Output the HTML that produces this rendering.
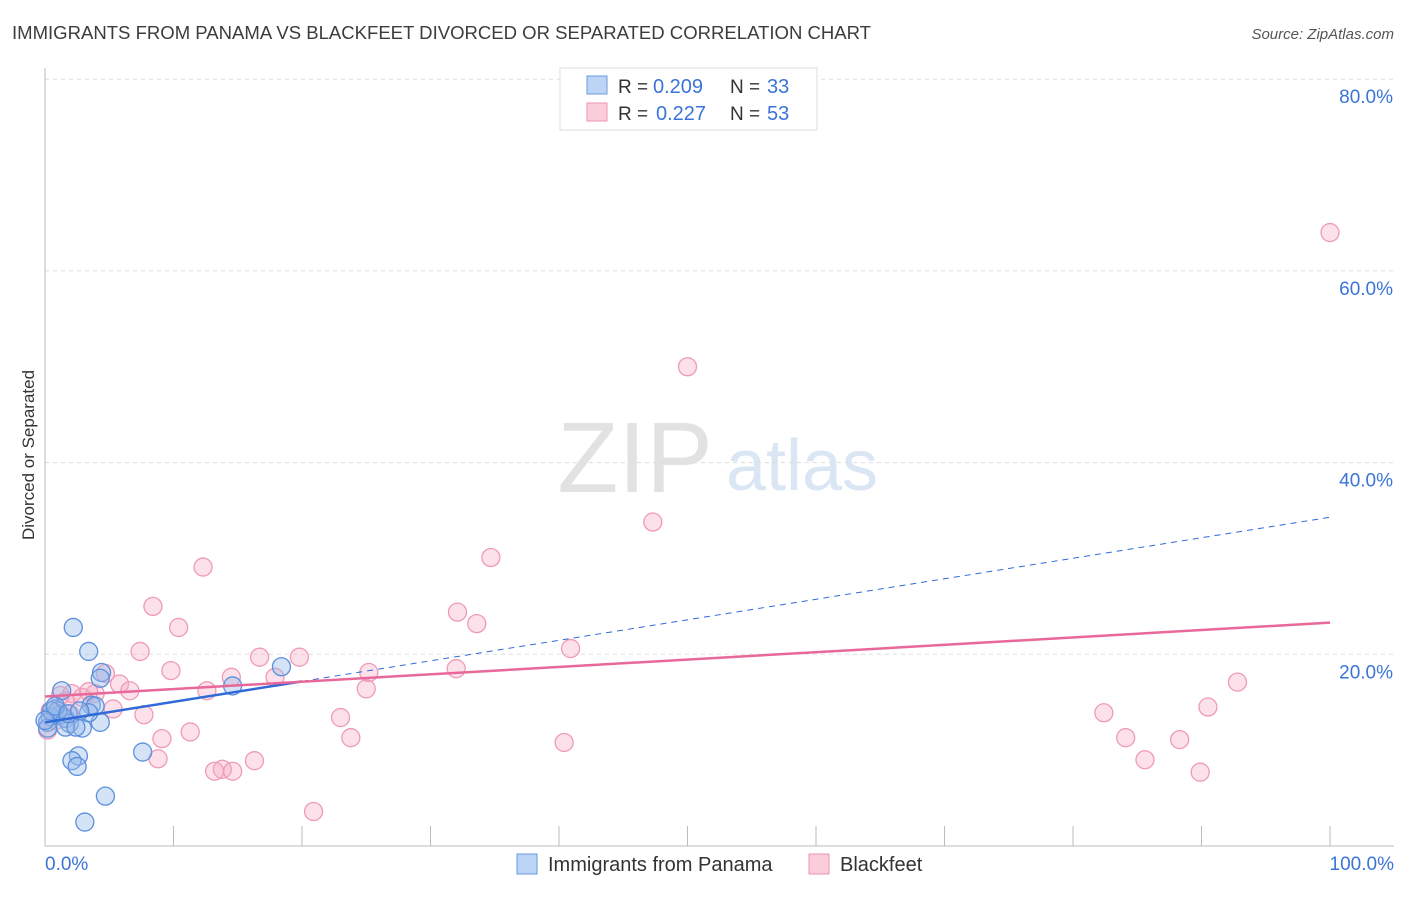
<!DOCTYPE html>
<html><head><meta charset="utf-8"><style>
body{margin:0;background:#fff;font-family:"Liberation Sans",sans-serif;}
svg text{font-family:"Liberation Sans",sans-serif;}
</style></head><body>
<svg id="chart" width="1406" height="892" viewBox="0 0 1406 892">
<text x="12" y="39" font-size="18" fill="#3c3c3c" textLength="859" lengthAdjust="spacingAndGlyphs">IMMIGRANTS FROM PANAMA VS BLACKFEET DIVORCED OR SEPARATED CORRELATION CHART</text>
<text x="1394" y="39" font-size="15" fill="#555" font-style="italic" text-anchor="end">Source: ZipAtlas.com</text>
<text x="34" y="455" font-size="17" fill="#333" text-anchor="middle" transform="rotate(-90 34 455)">Divorced or Separated</text>
<g>
<text x="635" y="492" font-size="100" fill="#e2e2e2" font-family="Liberation Serif" text-anchor="middle">ZIP</text>
<text x="802" y="490" font-size="72" fill="#dbe6f5" text-anchor="middle">atlas</text>
</g>
<g id="grid"></g><g id="axes"></g><g id="points"></g><g id="trends"></g>
<g>
<rect x="560" y="68" width="257" height="62" fill="#fff" stroke="#ddd"/>
<rect x="587" y="76" width="20" height="18" fill="#bcd4f5" stroke="#6a9ae0"/>
<rect x="587" y="103" width="20" height="18" fill="#fbcddb" stroke="#ee93b0"/>
<text x="618" y="93" font-size="19" fill="#333">R =</text>
<text x="653" y="93" font-size="20" fill="#3b74d8">0.209</text>
<text x="730" y="93" font-size="19" fill="#333">N =</text>
<text x="767" y="93" font-size="20" fill="#3b74d8">33</text>
<text x="618" y="120" font-size="19" fill="#333">R =</text>
<text x="656" y="120" font-size="20" fill="#3b74d8">0.227</text>
<text x="730" y="120" font-size="19" fill="#333">N =</text>
<text x="767" y="120" font-size="20" fill="#3b74d8">53</text>
</g>
<g>
<rect x="517" y="854" width="20" height="20" fill="#bcd4f5" stroke="#6a9ae0"/>
<text x="548" y="871" font-size="20" fill="#333">Immigrants from Panama</text>
<rect x="809" y="854" width="20" height="20" fill="#fbcddb" stroke="#ee93b0"/>
<text x="840" y="871" font-size="20" fill="#333">Blackfeet</text>
</g>
</svg>
<script>
const yTicks=[20,40,60,80];
const xTickLabels=["0.0%","100.0%"];
const panamaX=[2.2,3.4,4.4,1.3,4.3,0.8,1.2,0.4,1.6,0.2,1.9,2.9,4.3,3.6,3.9,3.4,1.0,0.5,1.6,2.4,2.6,2.1,2.5,4.7,3.1,7.6,14.6,18.4,0.2,0.8,1.8,2.7,0.0];
const panamaY=[22.8,20.3,18.1,16.2,17.5,14.3,13.7,13.5,13.3,12.9,12.8,12.3,12.9,14.7,14.6,13.9,14.1,14.1,12.4,12.4,9.4,8.9,8.3,5.2,2.5,9.8,16.7,18.7,12.3,14.6,13.8,14.1,13.1];
const blackX=[100,50.0,47.3,34.7,12.3,8.4,32.1,33.6,10.4,40.9,7.4,19.8,16.7,32.0,9.8,4.7,25.2,14.5,17.9,5.8,6.6,12.6,3.9,1.2,2.1,2.9,25.0,5.3,7.7,92.8,90.5,82.4,23.0,11.3,9.1,23.8,40.4,84.1,88.3,8.8,16.3,13.8,13.2,14.6,85.6,89.9,20.9,0.4,0.8,0.2,1.6,3.4,1.9];
const blackY=[64.0,50.0,33.8,30.1,29.1,25.0,24.4,23.2,22.8,20.6,20.3,19.7,19.7,18.5,18.3,18.0,18.1,17.6,17.6,16.9,16.2,16.2,15.9,15.7,15.9,15.5,16.4,14.3,13.7,17.1,14.5,13.9,13.4,11.9,11.2,11.3,10.8,11.3,11.1,9.1,8.9,8.0,7.8,7.8,9.0,7.7,3.6,14.1,13.1,12.1,15.1,16.1,13.8];
const trendPanama=[12.9,34.3];
const trendBlack=[15.6,23.3];
const NS="http://www.w3.org/2000/svg";
const X0=45,X1=1330,Y0=846,YPX=9.585;
function sx(v){return X0+(X1-X0)*v/100;}
function sy(v){return Y0-v*YPX;}
function mk(tag,attrs,parent){const e=document.createElementNS(NS,tag);for(const k in attrs)e.setAttribute(k,attrs[k]);document.getElementById(parent).appendChild(e);return e;}
let e;
for(const t of yTicks){
 e=mk('line',{x1:45,x2:1394,y1:sy(t),y2:sy(t),stroke:'#ddd','stroke-dasharray':'4,4'},'grid');
 
 
 e=mk('text',{x:1393,y:sy(t)+24,'font-size':19,fill:'#3b74d8','text-anchor':'end'},'grid');
 e.textContent=t.toFixed(1)+'%';
 
 
}
e=mk('line',{x1:45,x2:45,y1:68,y2:846,stroke:'#bbb'},'axes');


e=mk('line',{x1:45,x2:1394,y1:846,y2:846,stroke:'#bbb'},'axes');


for(let i=1;i<=10;i++){
 e=mk('line',{x1:sx(i*10),x2:sx(i*10),y1:826,y2:846,stroke:'#bbb'},'axes');
 
 
}
e=mk('text',{x:45,y:870,'font-size':19,fill:'#3b74d8'},'axes');e.textContent=xTickLabels[0];


e=mk('text',{x:1394,y:870,'font-size':19,fill:'#3b74d8','text-anchor':'end'},'axes');e.textContent=xTickLabels[1];


for(let i=0;i<blackX.length;i++){
 e=mk('circle',{cx:sx(blackX[i]),cy:sy(blackY[i]),r:9,fill:'rgba(247,170,195,0.35)',stroke:'#ef9ab6','stroke-width':1.3},'points');
 
 
}
for(let i=0;i<panamaX.length;i++){
 e=mk('circle',{cx:sx(panamaX[i]),cy:sy(panamaY[i]),r:9,fill:'rgba(150,185,235,0.4)',stroke:'#5c8fdc','stroke-width':1.3},'points');
 
 
}
const bAt=v=>trendPanama[0]+(trendPanama[1]-trendPanama[0])*v/100;
e=mk('line',{x1:sx(0),y1:sy(bAt(0)),x2:sx(20),y2:sy(bAt(20)),stroke:'#2f6ad6','stroke-width':2.5},'trends');


e=mk('line',{x1:sx(20),y1:sy(bAt(20)),x2:sx(100),y2:sy(bAt(100)),stroke:'#2f6ad6','stroke-width':1,'stroke-dasharray':'6,5'},'trends');


e=mk('line',{x1:sx(0),y1:sy(trendBlack[0]),x2:sx(100),y2:sy(trendBlack[1]),stroke:'#e8689a','stroke-width':2.5},'trends');


</script>
</body></html>
